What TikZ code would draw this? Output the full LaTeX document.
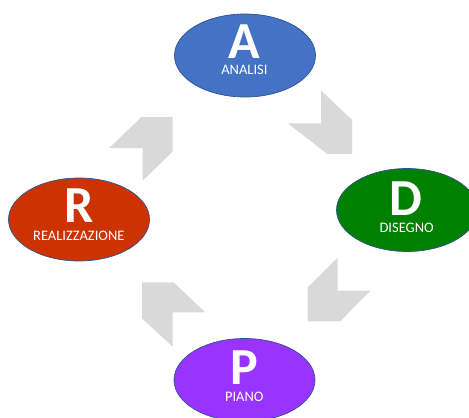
\documentclass[tikz,border=0pt]{standalone}
\usepackage{fontspec}
\setmainfont{Carlito}
\usetikzlibrary{shapes.geometric}
\definecolor{cA}{HTML}{4472C4}
\definecolor{cD}{HTML}{008000}
\definecolor{cR}{HTML}{CC3300}
\definecolor{cP}{HTML}{9933FF}
\definecolor{edge}{HTML}{2F528F}
\definecolor{arr}{HTML}{D9D9D9}
\tikzset{
  phase/.style={ellipse, draw=edge, line width=0.7pt, inner sep=0pt, outer sep=0pt, minimum width=141pt, minimum height=83pt},
  bigletter/.style={anchor=base, inner sep=0pt, text=white, text depth=0pt, font=\fontsize{52}{52}\selectfont\bfseries},
  smalllabel/.style={anchor=base, inner sep=0pt, text=white, text height=9pt, text depth=0pt, font=\fontsize{14.5}{15}\selectfont},
  blockarrow/.style={fill=arr, draw=none}
}
\begin{document}
\begin{tikzpicture}[x=1pt,y=-1pt]
\useasboundingbox (0,0) rectangle (469,418);
% ellipses
\node[phase, fill=cA] (A) at (245,55.5) {};
\node[phase, fill=cD] (D) at (407,210) {};
\node[phase, fill=cR] (R) at (79,219.5) {};
\node[phase, fill=cP] (P) at (244.5,380) {};
% texts
\node[bigletter] (Aletter) at (244.7,58.3) {A};
\node[smalllabel] (Alabel) at (244.4,74) {ANALISI};
\node[bigletter] (Dletter) at (405.8,215.7) {D};
\node[smalllabel] (Dlabel) at (406.7,232.3) {DISEGNO};
\node[bigletter] (Rletter) at (79,222.3) {R};
\node[smalllabel] (Rlabel) at (78.8,240) {REALIZZAZIONE};
\node[bigletter] (Pletter) at (244.5,384) {P};
\node[smalllabel] (Plabel) at (244.3,401.3) {PIANO};
% block arrows
\fill[blockarrow] (321,90.5) -- (352.2,120) -- (352.2,154.2) -- (327.7,154.2) -- (287.7,123.3) -- (321,123.3) -- cycle;
\fill[blockarrow] (337.7,257.5) -- (337.7,290.7) -- (370.3,290.7) -- (340.3,321.3) -- (307.7,321.3) -- (307.7,287.5) -- cycle;
\fill[blockarrow] (142,282.3) -- (173.5,282.3) -- (205.2,312.3) -- (172.7,312.3) -- (172.7,346.7) -- (142,318.5) -- cycle;
\fill[blockarrow] (172.7,117) -- (141.5,117) -- (109.3,148) -- (142.7,148) -- (142.7,180.7) -- (172.7,151.5) -- cycle;
\end{tikzpicture}
\end{document}
